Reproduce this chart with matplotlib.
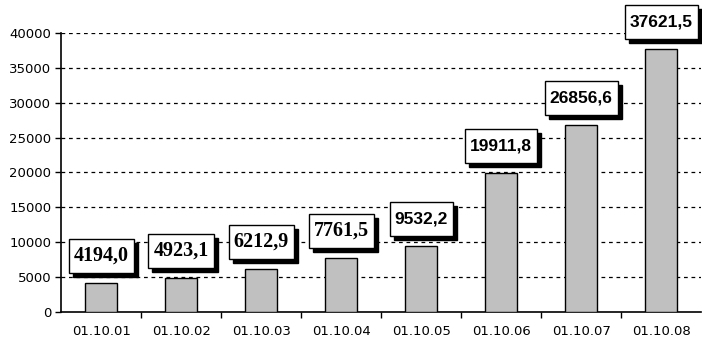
import matplotlib.pyplot as plt
import matplotlib.transforms as mtransforms
from matplotlib.patches import Rectangle

# Values by date
dates = ["01.10.01", "01.10.02", "01.10.03", "01.10.04",
         "01.10.05", "01.10.06", "01.10.07", "01.10.08"]
values = [4194.0, 4923.1, 6212.9, 7761.5, 9532.2, 19911.8, 26856.6, 37621.5]
labels = ["4194,0", "4923,1", "6212,9", "7761,5", "9532,2", "19911,8", "26856,6", "37621,5"]
label_fonts = ["Liberation Serif"] * 4 + ["Liberation Sans"] * 4
label_sizes = [14.5] * 4 + [12.5] * 4

fig = plt.figure(figsize=(7.02, 3.46), dpi=100)
ax = fig.add_axes([0.087, 0.098, 0.912, 0.807])

x = list(range(len(dates)))
ax.bar(x, values, width=0.4, color="#c0c0c0", edgecolor="black", linewidth=1, zorder=3)

ax.set_xlim(-0.5, len(dates) - 0.5)
ax.set_ylim(0, 40000)
ax.set_yticks(range(0, 40001, 5000))
ax.set_xticks(x)
ax.set_xticklabels(dates)
ax.set_xticks([i + 0.5 for i in x[:-1]], minor=True)
ax.tick_params(axis="x", which="major", length=0, pad=9, labelsize=9.5)
ax.tick_params(axis="x", which="minor", length=4, direction="out", width=1)
ax.tick_params(axis="y", length=4, direction="out", width=1, labelsize=9.5, pad=3)

for v in range(5000, 40001, 5000):
    ax.axhline(v, color="black", linestyle=(0, (3, 3)), linewidth=0.9, zorder=1)

for side in ["top", "right"]:
    ax.spines[side].set_visible(False)
for side in ["left", "bottom"]:
    ax.spines[side].set_linewidth(1.2)

# Value labels in white boxes with a drop shadow
gap, box_h = 10, 34
fig.canvas.draw()
renderer = fig.canvas.get_renderer()
for xi, v, lab, fam, fs in zip(x, values, labels, label_fonts, label_sizes):
    t = ax.annotate(lab, (xi, v), xytext=(0, gap + box_h / 2), textcoords="offset pixels",
                    fontsize=fs, fontweight="bold", family=fam,
                    ha="center", va="center", zorder=6, annotation_clip=False)
    w = t.get_window_extent(renderer).width + 10
    base = mtransforms.Affine2D().translate(*ax.transData.transform((xi, v)))
    ax.add_patch(Rectangle((-w / 2 + 4, gap - 4), w, box_h, transform=base,
                           facecolor="black", edgecolor="black", zorder=4, clip_on=False))
    ax.add_patch(Rectangle((-w / 2, gap), w, box_h, transform=base,
                           facecolor="white", edgecolor="black", linewidth=1,
                           zorder=5, clip_on=False))

fig.savefig("out.png", dpi=100)
